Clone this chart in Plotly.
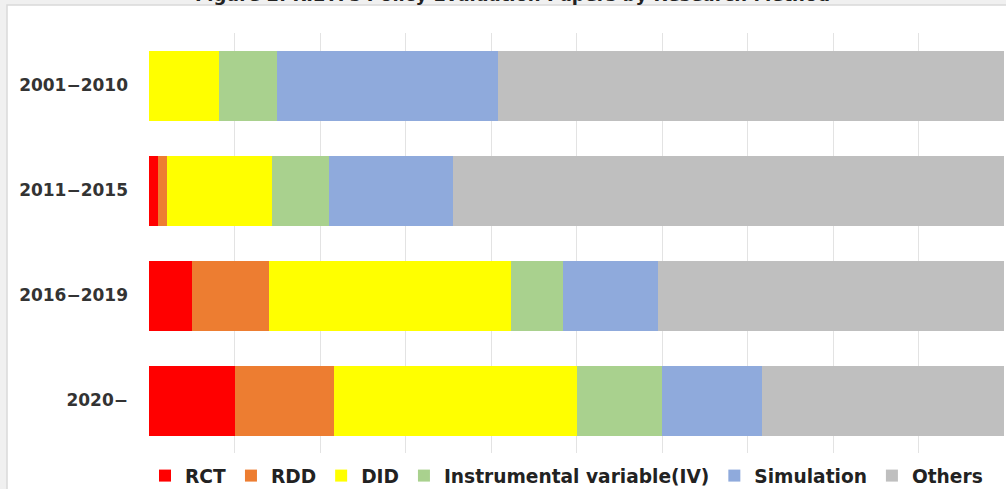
import plotly.graph_objects as go

# Share of papers by research method (%), per publication period
periods = ["2001−2010", "2011−2015", "2016−2019", "2020−"]
rct = [0.0, 1.0, 5.0, 10.0]
rdd = [0.0, 1.1, 9.0, 11.6]
did = [8.2, 12.3, 28.3, 28.4]
iv = [6.8, 6.7, 6.1, 10.0]
simulation = [25.8, 14.5, 11.1, 11.7]
others = [59.2, 64.4, 40.5, 28.3]

method_names = ["RCT", "RDD", "DID", "Instrumental variable(IV)", "Simulation", "Others"]
method_values = [rct, rdd, did, iv, simulation, others]
method_colors = ["#FF0000", "#ED7D31", "#FFFF00", "#A9D18E", "#8FAADC", "#BFBFBF"]

fig = go.Figure()
for name, vals, color in zip(method_names, method_values, method_colors):
    fig.add_trace(go.Bar(
        y=periods, x=vals, name=name, orientation="h",
        marker=dict(color=color, line=dict(width=0)),
    ))

W, H = 1006, 489
L, R, T, B = 149, 2, 33, 36
plot_w, plot_h = W - L - R, H - T - B


def px_x(px):
    return (px - L) / plot_w


def px_y(py):
    return (H - B - py) / plot_h


fig.update_layout(
    width=W, height=H,
    margin=dict(l=L, r=R, t=T, b=B, pad=0, autoexpand=False),
    barmode="stack", bargap=1 / 3,
    paper_bgcolor="#F0F0F0", plot_bgcolor="white",
    font=dict(family="DejaVu Sans", color="#333333"),
    xaxis=dict(range=[0, 100], dtick=10, showticklabels=False, ticks="",
               showgrid=True, gridcolor="#E3E3E3", gridwidth=1,
               zeroline=False, showline=False, fixedrange=True),
    yaxis=dict(categoryorder="array", categoryarray=periods, autorange="reversed",
               ticks="", ticklabelstandoff=20, showgrid=False, zeroline=False,
               tickfont=dict(family="DejaVu Sans", size=17, color="#333333", weight="bold")),
    legend=dict(orientation="h", xref="container", x=145 / W, xanchor="left",
                yref="container", y=1 - 476 / H, yanchor="middle",
                traceorder="normal", bgcolor="rgba(0,0,0,0)",
                font=dict(family="DejaVu Sans", size=18.6, color="#222222", weight="bold")),
    showlegend=True,
    shapes=[dict(type="rect", xref="paper", yref="paper", layer="below",
                 x0=px_x(7), x1=px_x(1100), y0=px_y(600), y1=px_y(5),
                 fillcolor="white", line=dict(color="#D9D9D9", width=1.5))],
    annotations=[dict(text="Figure 2: RIETI's Policy Evaluation Papers by Research Method",
                      xref="paper", yref="paper", x=px_x(512), y=px_y(7),
                      xanchor="center", yanchor="bottom", showarrow=False,
                      font=dict(family="DejaVu Sans", size=18, color="#222222", weight="bold"))],
)

fig.write_html("out.html")
